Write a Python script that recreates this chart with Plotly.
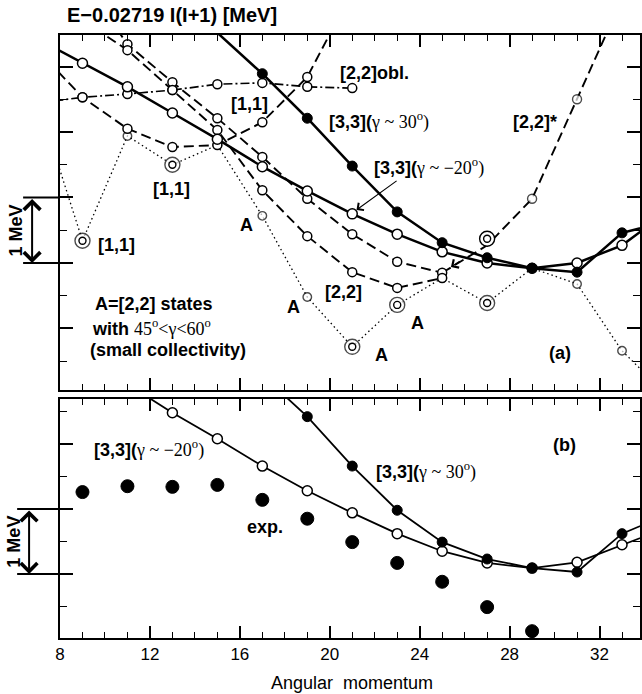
import plotly.graph_objects as go

# ---------------- panel (a): E - 0.02719 I(I+1) [MeV] ----------------
I_a33neg = [7, 9, 11, 13, 15, 17, 19, 21, 23, 25, 27, 29, 31, 33, 35]
E_a33neg = [3.42, 3.05, 2.69, 2.29, 1.89, 1.47, 1.10, 0.75, 0.44, 0.17, 0.00, -0.08, 0.00, 0.27, 0.78]

I_a33pos = [13, 17, 19, 21, 23, 25, 27, 29, 31, 33, 35]
E_a33pos = [4.14, 2.89, 2.21, 1.48, 0.78, 0.31, 0.08, -0.08, -0.14, 0.46, 0.63]

I_a22obl = [7, 9, 11, 13, 15, 17, 19, 21]
E_a22obl = [2.44, 2.53, 2.58, 2.64, 2.73, 2.75, 2.69, 2.67]

I_a11 = [7, 9, 11, 13, 15, 17, 19, 21]
E_a11 = [3.25, 2.53, 2.05, 1.77, 1.80, 2.15, 2.84, 4.15]

I_a22up = [9, 11, 13, 15, 17, 19, 21, 23, 25]
E_a22up = [4.32, 3.34, 2.76, 2.21, 1.62, 0.98, 0.44, 0.02, -0.15]

I_a22 = [9, 11, 13, 15, 17, 19, 21, 23, 25]
E_a22 = [3.71, 3.25, 2.64, 2.03, 1.11, 0.41, -0.14, -0.38, -0.23]

I_a22star = [25, 27, 29, 31, 33]
E_a22star = [-0.15, 0.27, 0.98, 2.50, 4.03]
a22star_marked = [False, False, True, True, True]

I_aiso = [27]
E_aiso = [0.37]

I_adot = [7, 9, 11, 13, 15, 17, 19, 21, 23, 25, 27, 29, 31, 33, 35]
E_adot = [2.49, 0.34, 1.94, 1.50, 1.80, 0.72, -0.52, -1.28, -0.64, -0.23, -0.61, -0.08, -0.32, -1.34, -2.02]
adot_double = [False, True, False, True, False, False, False, True, True, False, True, False, False, False, False]

# ---------------- panel (b) ----------------
I_b33neg = [11, 13, 15, 17, 19, 21, 23, 25, 27, 29, 31, 33, 35]
E_b33neg = [2.92, 2.48, 2.08, 1.66, 1.28, 0.94, 0.62, 0.35, 0.17, 0.09, 0.18, 0.45, 0.71]

I_b33pos = [17, 19, 21, 23, 25, 27, 29, 31, 33, 35]
E_b33pos = [3.06, 2.42, 1.66, 0.98, 0.49, 0.23, 0.09, 0.03, 0.62, 0.91]

I_bexp = [9, 11, 13, 15, 17, 19, 21, 23, 25, 27, 29]
E_bexp = [1.26, 1.35, 1.34, 1.37, 1.14, 0.85, 0.49, 0.17, -0.12, -0.51, -0.88]

x_ticks = [8, 12, 16, 20, 24, 28, 32]

SANS = "Liberation Sans, Arial, sans-serif"
SERIF = "Liberation Serif"
BLK = "black"

fig = go.Figure()


def open_marker(size=9, lw=1.5):
    return dict(symbol="circle", size=size, color="white", line=dict(color=BLK, width=lw))


def filled_marker(size=10):
    return dict(symbol="circle", size=size, color=BLK, line=dict(color=BLK, width=1))


# dotted A-states line (panel a)
fig.add_trace(go.Scatter(
    x=I_adot, y=E_adot, mode="lines+markers", xaxis="x", yaxis="y",
    line=dict(color=BLK, width=1.3, dash="1.5px,3px"),
    marker=dict(symbol="circle", color="white",
                size=[15 if d else 8.5 for d in adot_double],
                line=dict(color=BLK, width=1.4))))

# [2,2]* dashed
fig.add_trace(go.Scatter(
    x=I_a22star, y=E_a22star, mode="lines+markers", xaxis="x", yaxis="y",
    line=dict(color=BLK, width=1.9, dash="10px,5px"),
    marker=dict(symbol="circle", color="white",
                size=[9 if m else 0 for m in a22star_marked],
                line=dict(color=BLK, width=1.4))))

# isolated double circle
fig.add_trace(go.Scatter(x=I_aiso, y=E_aiso, mode="markers", xaxis="x", yaxis="y",
                         marker=open_marker(15, 1.4)))

# [2,2]obl dash-dot
fig.add_trace(go.Scatter(
    x=I_a22obl, y=E_a22obl, mode="lines+markers", xaxis="x", yaxis="y",
    line=dict(color=BLK, width=1.7, dash="9px,3px,2px,3px"),
    marker=open_marker(9)))

# [1,1] dashed
fig.add_trace(go.Scatter(
    x=I_a11, y=E_a11, mode="lines+markers", xaxis="x", yaxis="y",
    line=dict(color=BLK, width=1.9, dash="10px,5px"),
    marker=open_marker(9)))

# upper dashed
fig.add_trace(go.Scatter(
    x=I_a22up, y=E_a22up, mode="lines+markers", xaxis="x", yaxis="y",
    line=dict(color=BLK, width=1.9, dash="10px,5px"),
    marker=open_marker(9)))

# [2,2] dashed
fig.add_trace(go.Scatter(
    x=I_a22, y=E_a22, mode="lines+markers", xaxis="x", yaxis="y",
    line=dict(color=BLK, width=1.9, dash="10px,5px"),
    marker=open_marker(9)))

# [3,3] gamma~-20 solid open
fig.add_trace(go.Scatter(
    x=I_a33neg, y=E_a33neg, mode="lines+markers", xaxis="x", yaxis="y",
    line=dict(color=BLK, width=2.5), marker=open_marker(10)))

# [3,3] gamma~30 solid filled
fig.add_trace(go.Scatter(
    x=I_a33pos, y=E_a33pos, mode="lines+markers", xaxis="x", yaxis="y",
    line=dict(color=BLK, width=2.5), marker=filled_marker(10)))

# inner circles of double circles
dbl_x = [i for i, d in zip(I_adot, adot_double) if d] + I_aiso
dbl_y = [e for e, d in zip(E_adot, adot_double) if d] + E_aiso
fig.add_trace(go.Scatter(x=dbl_x, y=dbl_y, mode="markers", xaxis="x", yaxis="y",
                         marker=open_marker(7, 1.4)))

# ---------------- panel (b) traces ----------------
fig.add_trace(go.Scatter(
    x=I_b33neg, y=E_b33neg, mode="lines+markers", xaxis="x2", yaxis="y2",
    line=dict(color=BLK, width=1.8), marker=open_marker(10)))
fig.add_trace(go.Scatter(
    x=I_b33pos, y=E_b33pos, mode="lines+markers", xaxis="x2", yaxis="y2",
    line=dict(color=BLK, width=1.8), marker=filled_marker(10)))
fig.add_trace(go.Scatter(
    x=I_bexp, y=E_bexp, mode="markers", xaxis="x2", yaxis="y2",
    marker=filled_marker(13)))

# ---------------- axes ----------------
xr = [8, 33.8]
common_x = dict(range=xr, showline=True, linewidth=2, linecolor=BLK, mirror="ticks",
                ticks="inside", ticklen=12, tickwidth=1.5, tickcolor=BLK,
                tickmode="array", tickvals=x_ticks,
                minor=dict(dtick=1, tick0=8, ticks="inside", ticklen=6, tickwidth=1.3, tickcolor=BLK),
                showgrid=False, zeroline=False)
common_y = dict(showline=True, linewidth=2, linecolor=BLK, mirror="ticks",
                ticks="inside", ticklen=13, tickwidth=1.5, tickcolor=BLK,
                tick0=0, dtick=1,
                minor=dict(dtick=0.5, tick0=0, ticks="inside", ticklen=7, tickwidth=1.3, tickcolor=BLK),
                showgrid=False, zeroline=False, showticklabels=False)

fig.update_layout(
    width=642, height=694,
    margin=dict(l=60, r=0, t=35, b=56),
    paper_bgcolor="white", plot_bgcolor="white",
    showlegend=False,
    font=dict(family=SANS, color=BLK, size=17),
    xaxis=dict(domain=[0, 1], anchor="y", showticklabels=False, **common_x),
    xaxis2=dict(domain=[0, 1], anchor="y2", matches="x", showticklabels=True,
                ticktext=[str(v) for v in x_ticks],
                tickfont=dict(family=SANS, size=17, color=BLK), ticklabelstandoff=0,
                **common_x),
    yaxis=dict(domain=[0.4113, 1], anchor="x", range=[-1.939, 3.481], **common_y),
    yaxis2=dict(domain=[0, 0.3964], anchor="x2", range=[-0.985, 2.692], **common_y),
)

ann = []


def txt(x, y, text, xref="x", yref="y", size=18, xanchor="center", yanchor="middle", angle=0):
    ann.append(dict(x=x, y=y, xref=xref, yref=yref, text=text, showarrow=False,
                    xanchor=xanchor, yanchor=yanchor, textangle=angle,
                    font=dict(family=SANS, size=size, color=BLK)))


def serif(s):
    return "<span style='font-family:%s;font-weight:normal'>%s</span>" % (SERIF, s)


# title
txt(0.0086, 1.033, "<b>E\u22120.02719 I(I+1) [MeV]</b>", xref="paper", yref="paper",
    size=20, xanchor="left")

# panel (a) labels
txt(22.0, 2.90, "<b>[2,2]obl.</b>")
txt(16.43, 2.43, "<b>[1,1]</b>")
txt(19.88, 2.17, "<b>[3,3](</b>" + serif("\u03b3 ~ 30<sup>o</sup>)"), xanchor="left")
txt(21.88, 1.47, "<b>[3,3](</b>" + serif("\u03b3 ~ \u221220<sup>o</sup>)"), xanchor="left")
txt(29.15, 2.15, "<b>[2,2]*</b>")
txt(10.53, 0.27, "<b>[1,1]</b>")
txt(12.97, 1.13, "<b>[1,1]</b>")
txt(16.29, 0.58, "<b>A</b>")
txt(18.38, -0.67, "<b>A</b>")
txt(22.28, -1.40, "<b>A</b>")
txt(23.92, -0.92, "<b>A</b>")
txt(20.6, -0.44, "<b>[2,2]</b>")
txt(30.26, -1.37, "<b>(a)</b>")
txt(12.17, -0.63, "<b>A=[2,2] states</b>")
txt(12.08, -0.99, "<b>with </b>" + serif("45<sup>o</sup>&lt;\u03b3&lt;60<sup>o</sup>"))
txt(12.79, -1.33, "<b>(small collectivity)</b>")

# panel (b) labels
txt(9.42, 1.92, "<b>[3,3](</b>" + serif("\u03b3 ~ \u221220<sup>o</sup>)"), xref="x2", yref="y2",
    xanchor="left")
txt(17.13, 0.72, "<b>exp.</b>", xref="x2", yref="y2")
txt(21.97, 1.58, "<b>[3,3](</b>" + serif("\u03b3 ~ 30<sup>o</sup>)"), xref="x2", yref="y2",
    xanchor="left")
txt(30.44, 1.98, "<b>(b)</b>", xref="x2", yref="y2")

# x axis title
txt(0.503, -0.0746, "Angular\u00a0\u00a0momentum", xref="paper", yref="paper", size=18)

# 1 MeV labels
txt(-0.0756, 0.5, "<b>1 MeV</b>", xref="paper", yref="y", size=18, angle=-90)
txt(-0.079, 0.5, "<b>1 MeV</b>", xref="paper", yref="y2", size=18, angle=-90)

# arrows
ann.append(dict(x=21.19, y=0.81, xref="x", yref="y", ax=23.04, ay=1.27, axref="x", ayref="y",
                text="", showarrow=True, arrowhead=4, arrowsize=1.6, arrowwidth=1.1,
                arrowcolor=BLK, standoff=0))
ann.append(dict(x=25.39, y=-0.06, xref="x", yref="y", ax=25.85, ay=0.04, axref="x", ayref="y",
                text="", showarrow=True, arrowhead=4, arrowsize=1.6, arrowwidth=1.2,
                arrowcolor=BLK, standoff=0))
ann.append(dict(x=-0.0481, y=0, xref="paper", yref="y", ax=0, ay=1, axref="pixel", ayref="y",
                text="", showarrow=True, arrowhead=4, arrowside="end+start", arrowsize=1.6,
                arrowwidth=2, arrowcolor=BLK, standoff=0, startstandoff=0))
ann.append(dict(x=-0.0533, y=0, xref="paper", yref="y2", ax=0, ay=1, axref="pixel", ayref="y2",
                text="", showarrow=True, arrowhead=4, arrowside="end+start", arrowsize=1.6,
                arrowwidth=2, arrowcolor=BLK, standoff=0, startstandoff=0))

fig.update_layout(annotations=ann)

shapes = []
for yv in (0, 1):
    shapes.append(dict(type="line", xref="paper", yref="y", x0=-0.0636, x1=0, y0=yv, y1=yv,
                       line=dict(color=BLK, width=2)))
    shapes.append(dict(type="line", xref="paper", yref="y2", x0=-0.0739, x1=0, y0=yv, y1=yv,
                       line=dict(color=BLK, width=2)))
fig.update_layout(shapes=shapes)

fig.write_html("out.html")
